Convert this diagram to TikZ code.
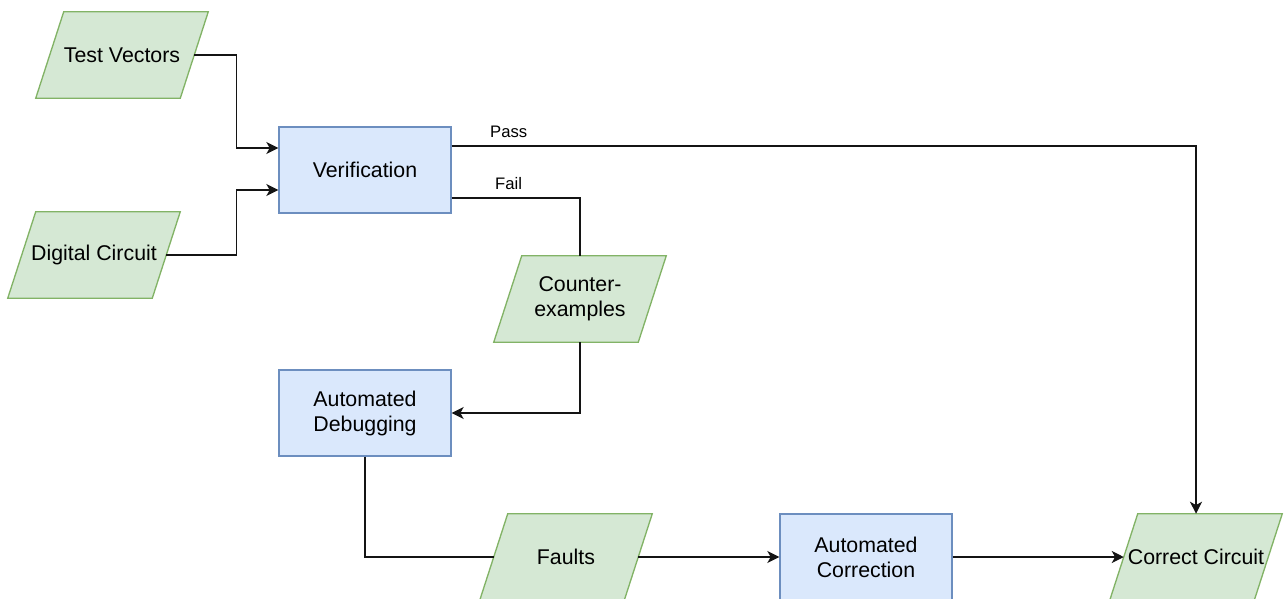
\documentclass[tikz,border=0pt]{standalone}
\usepackage{fontspec}
\setmainfont{Liberation Sans}
\usetikzlibrary{arrows.meta,backgrounds}
\definecolor{iofill}{RGB}{213, 232, 212}
\definecolor{iodraw}{RGB}{130, 179, 102}
\definecolor{procfill}{RGB}{218, 232, 252}
\definecolor{procdraw}{RGB}{108, 142, 191}
\definecolor{wire}{RGB}{20, 20, 20}

\begin{document}
\begin{tikzpicture}[x=0.75pt, y=-0.75pt,
  every node/.style={font=\fontsize{16}{18.75}\selectfont},
  io/.style={minimum width=108pt, minimum height=64.5pt, inner sep=0pt, align=center},
  iobox/.style={draw=iodraw, fill=iofill, line width=1pt},
  proc/.style={draw=procdraw, fill=procfill, line width=1pt, minimum width=129pt, minimum height=64.5pt, inner sep=0pt, align=center},
  flow/.style={draw=wire, line width=1.1pt},
  arr/.style={flow, -{Stealth[length=9pt, width=9pt, inset=2.5pt]}},
  lbl/.style={font=\fontsize{12.5}{15}\selectfont, above=2pt}]
  \useasboundingbox (0,0) rectangle (1284,599);

  \node[io] (tv) at (122,55) {Test Vectors};
  \node[io] (dc) at (94,255) {Digital Circuit};
  \node[proc] (ver) at (365,170) {Verification};
  \node[io] (ce) at (580,299) {Counter-\\examples};
  \node[proc] (dbg) at (365,413) {Automated\\Debugging};
  \node[io] (flt) at (566,557) {Faults};
  \node[proc] (cor) at (866,557) {Automated\\Correction};
  \node[io] (cc) at (1196,557) {Correct Circuit};

  % slanted data boxes behind the io nodes
  \begin{scope}[on background layer]
    \foreach \n in {tv,dc,ce,flt,cc}
      \draw[iobox] ([xshift=10.5pt]\n.north west) -- ([xshift=10.5pt]\n.north east) -- ([xshift=-10.5pt]\n.south east) -- ([xshift=-10.5pt]\n.south west) -- cycle;
  \end{scope}

  \draw[arr] (tv.east) -- ++(42,0) |- ([yshift=16.5pt]ver.west);
  \draw[arr] (dc.east) -- ++(70,0) |- ([yshift=-15pt]ver.west);
  \draw[arr] ([yshift=18pt]ver.east) -- ++(57,0) node[lbl, pos=1] {Pass} -| (cc.north);
  \draw[flow] ([yshift=-21pt]ver.east) -- ++(57,0) node[lbl, pos=1] {Fail} -| (ce.north);
  \draw[arr] (ce.south) |- (dbg.east);
  \draw[flow] (dbg.south) |- (flt.west);
  \draw[arr] (flt.east) -- (cor.west);
  \draw[arr] (cor.east) -- (cc.west);
\end{tikzpicture}
\end{document}
